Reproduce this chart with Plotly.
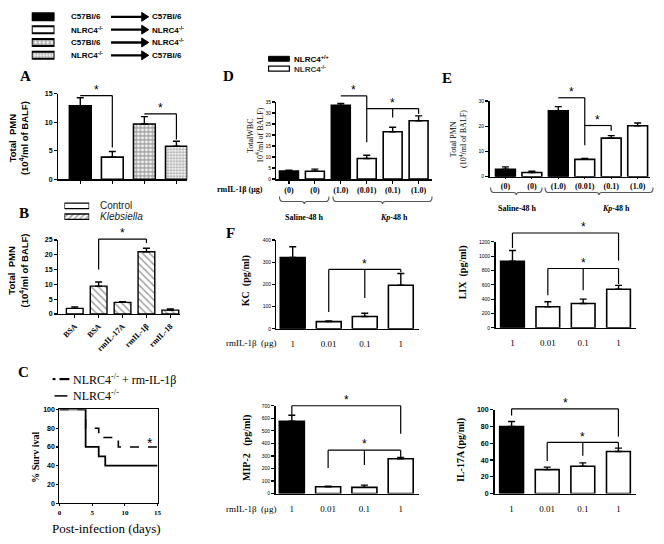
import plotly.graph_objects as go

W, H = 664, 544
def X(px): return px / W
def Y(py): return 1 - py / H

SERIF = "Liberation Serif"
SANS = "Liberation Sans"

# ---------------- data ----------------
transfer_donor = ["C57Bl/6", "NLRC4<sup>-/-</sup>", "C57Bl/6", "NLRC4<sup>-/-</sup>"]
transfer_recipient = ["C57Bl/6", "NLRC4<sup>-/-</sup>", "NLRC4<sup>-/-</sup>", "C57Bl/6"]
a_values = [12.9, 3.9, 9.7, 5.8]
a_errors = [1.4, 1.0, 1.3, 0.9]

b_labels = ["BSA", "BSA", "rmIL-17A", "rmIL-1β", "rmIL-18"]
b_groups = ["Control", "Klebsiella", "Klebsiella", "Klebsiella", "Klebsiella"]
b_values = [1.9, 9.4, 3.9, 21.0, 1.3]
b_errors = [0.5, 1.4, 0.2, 1.2, 0.4]

c_days_il1b = [0, 4, 6, 9, 15]
c_surv_il1b = [100, 80, 70, 60, 60]
c_days_ko = [0, 4, 6, 7, 15]
c_surv_ko = [100, 60, 50, 40, 40]

de_doses = ["(0)", "(0)", "(1.0)", "(0.01)", "(0.1)", "(1.0)"]
de_genotype = ["NLRC4+/+", "NLRC4-/-", "NLRC4+/+", "NLRC4-/-", "NLRC4-/-", "NLRC4-/-"]
d_values = [3.6, 3.5, 33.5, 9.3, 21.5, 26.5]
d_errors = [0.4, 1.0, 0.9, 1.5, 2.0, 2.2]
e_values = [3.0, 1.7, 26.1, 6.9, 15.3, 20.2]
e_errors = [0.9, 0.5, 1.7, 0.4, 1.0, 1.1]

f_doses = ["1", "0.01", "0.1", "1"]
f_genotype = ["NLRC4+/+", "NLRC4-/-", "NLRC4-/-", "NLRC4-/-"]
kc_values = [321, 32, 55, 196]
kc_errors = [48, 3, 15, 53]
lix_values = [930, 294, 340, 538]
lix_errors = [150, 70, 60, 55]
mip2_values = [577, 55, 50, 278]
mip2_errors = [47, 4, 18, 10]
il17a_values = [80, 28.6, 32.6, 50.2]
il17a_errors = [6, 3, 4, 4]

# ---------------- styles ----------------
a_pattern_shape = ["", "", "+", "."]
a_pattern_fg = ["black", "black", "black", "#999999"]
a_pattern_bg = ["black", "white", "white", "white"]
a_pattern_size = [6, 6, 4, 3]
a_pattern_solid = [0.3, 0.3, 0.6, 0.45]

def geno_color(g):
    return "black" if g == "NLRC4+/+" else "white"

fig = go.Figure()
annotations = []
shapes = []
layout_axes = {}
PANELS = {}


def add_axes(i, xd, yd, xr, yr, xtv=None, xtt=None, xfont=None, ytv=None, ytt=None,
             yfont=None, hide=False, mirror=False, tickangle=None, lw=1.5,
             xticklen=3, xtickcolor="black", yticklen=3, xticks="outside"):
    PANELS[i] = (xd, yd, xr, yr)
    xa = dict(domain=[X(xd[0]), X(xd[1])], range=xr, anchor=f"y{i}",
              showgrid=False, zeroline=False, fixedrange=True)
    ya = dict(domain=[Y(yd[1]), Y(yd[0])], range=yr, anchor=f"x{i}",
              showgrid=False, zeroline=False, fixedrange=True)
    if hide:
        xa.update(visible=False)
        ya.update(visible=False)
    else:
        xa.update(showline=True, linecolor="black", linewidth=lw, mirror=mirror,
                  ticks=xticks, ticklen=xticklen, tickwidth=1.2, tickcolor=xtickcolor,
                  tickmode="array", tickvals=xtv,
                  showticklabels=xtt is not None,
                  ticklabeloverflow="allow")
        if xtt is not None:
            xa.update(ticktext=xtt, tickfont=xfont)
        if tickangle is not None:
            xa.update(tickangle=tickangle)
        ya.update(showline=True, linecolor="black", linewidth=lw, mirror=mirror,
                  ticks="outside", ticklen=yticklen, tickwidth=1.2, tickcolor="black",
                  tickmode="array", tickvals=ytv,
                  ticktext=ytt if ytt is not None else [str(v) for v in ytv],
                  tickfont=yfont, showticklabels=True, ticklabeloverflow="allow")
    key = "" if i == 1 else str(i)
    layout_axes["xaxis" + key] = xa
    layout_axes["yaxis" + key] = ya


def axref(i):
    return ("x", "y") if i == 1 else (f"x{i}", f"y{i}")


def bar(i, values, errors, colors, width, pshape=None, pfg=None, pbg=None,
        psize=None, psolid=None, lw=1.6):
    n = len(values)
    marker = dict(color=colors, line=dict(color="black", width=lw))
    if pshape is not None:
        marker["pattern"] = dict(shape=pshape, fgcolor=pfg, bgcolor=pbg,
                                 size=psize, solidity=psolid)
    xr_, yr_ = axref(i)
    fig.add_trace(go.Bar(
        x=list(range(n)), y=values, width=width, marker=marker,
        xaxis=xr_, yaxis=yr_, showlegend=False, hoverinfo="skip",
        error_y=dict(type="data", array=errors, arrayminus=[0] * n,
                     symmetric=False, color="black", thickness=1.4, width=3.5)))


def to_px(i, xv, yv):
    xd, yd, xr, yr = PANELS[i]
    px = xd[0] + (xv - xr[0]) / (xr[1] - xr[0]) * (xd[1] - xd[0])
    py = yd[1] - (yv - yr[0]) / (yr[1] - yr[0]) * (yd[1] - yd[0])
    return px, py


def pline(x0, y0, x1, y1, w=1.2, color="black"):
    shapes.append(dict(type="line", xref="paper", yref="paper", x0=X(x0), y0=Y(y0),
                       x1=X(x1), y1=Y(y1), line=dict(color=color, width=w)))


def txt(x, y, text, size, family=SERIF, anchor="center", angle=0, color="#000000"):
    annotations.append(dict(xref="paper", yref="paper", x=X(x), y=Y(y), text=text,
                            showarrow=False, textangle=angle,
                            font=dict(size=size, family=family, color=color),
                            xanchor=anchor, yanchor="middle"))


def bracket(i, x0, x1, y, drops, star_x=None, star_size=12):
    ax0, ay = to_px(i, x0, y)
    ax1, _ = to_px(i, x1, y)
    pline(ax0, ay, ax1, ay)
    for (xx, yb) in drops:
        dx, dy = to_px(i, xx, yb)
        pline(dx, ay, dx, dy)
    sx = (x0 + x1) / 2 if star_x is None else star_x
    spx, _ = to_px(i, sx, y)
    txt(spx, ay - 6, "*", star_size, SANS)


def brace(x0, x1, ytop, ybot):
    xm = (x0 + x1) / 2
    r = 3
    p = (f"M {X(x0)},{Y(ytop)} Q {X(x0)},{Y(ybot)} {X(x0 + r)},{Y(ybot)} "
         f"L {X(xm - r)},{Y(ybot)} Q {X(xm)},{Y(ybot)} {X(xm)},{Y(ybot + 2.5)} "
         f"Q {X(xm)},{Y(ybot)} {X(xm + r)},{Y(ybot)} "
         f"L {X(x1 - r)},{Y(ybot)} Q {X(x1)},{Y(ybot)} {X(x1)},{Y(ytop)}")
    shapes.append(dict(type="path", xref="paper", yref="paper", path=p,
                       line=dict(color="#555555", width=1.1)))


def arrow(x0, x1, yy):
    pline(x0, yy, x1 - 5, yy, w=2.4)
    p = (f"M {X(x1 - 7)},{Y(yy - 4.5)} L {X(x1)},{Y(yy)} L {X(x1 - 7)},{Y(yy + 4.5)} Z")
    shapes.append(dict(type="path", xref="paper", yref="paper", path=p,
                       fillcolor="black", line=dict(color="black", width=1)))


def bold(lst):
    return [f"<b>{v}</b>" for v in lst]


tiny_tick = dict(size=5, family=SANS, color="#000000")

# ---------------- Panel A ----------------
add_axes(1, (57, 187), (91, 177.7), [-0.68, 3.34], [0, 15], xtv=list(range(4)),
         ytv=[0, 5, 10, 15], ytt=bold([0, 5, 10, 15]),
         yfont=dict(size=7, family=SANS, color="#000000"))
bar(1, a_values, a_errors, a_pattern_bg, 0.68, a_pattern_shape, a_pattern_fg,
    a_pattern_bg, a_pattern_size, a_pattern_solid)
bracket(1, 0, 1, 14.7, [(1, 5.6)])
bracket(1, 2, 3, 11.5, [(3, 7.0)])
txt(24, 73, "<b>A</b>", 15)
txt(16, 136, "<b>Total  PMN<br>(10<sup>4</sup>/ml of BALF)</b>", 9.5, SANS, angle=-90)

# legend for transfers (hidden axis with patterned boxes)
add_axes(10, (30, 53), (6.5, 58.5), [0, 1], [3.5, -0.5], hide=True)
fig.add_trace(go.Bar(orientation="h", x=[1, 1, 1, 1], y=list(range(4)), width=0.55,
                     xaxis="x10", yaxis="y10", showlegend=False, hoverinfo="skip",
                     marker=dict(color=a_pattern_bg, line=dict(color="black", width=2),
                                 pattern=dict(shape=a_pattern_shape, fgcolor=a_pattern_fg,
                                              bgcolor=a_pattern_bg, size=a_pattern_size,
                                              solidity=a_pattern_solid))))
for k, (dn, rc) in enumerate(zip(transfer_donor, transfer_recipient)):
    yy = 13 + 13 * k
    txt(68, yy, f"<b>{dn}</b>", 8, SANS, anchor="left")
    txt(149, yy, f"<b>{rc}</b>", 8, SANS, anchor="left")
    arrow(110, 148, yy)

# ---------------- Panel B ----------------
b_colors = ["white" for g in b_groups]
b_shapes = ["" if g == "Control" else "\\" for g in b_groups]
add_axes(2, (57, 180), (239, 314), [-0.68, 4.42], [0, 25], xtv=list(range(5)),
         xtt=bold(b_labels), xfont=dict(size=8, family=SERIF, color="#000000"),
         ytv=[0, 5, 10, 15, 20, 25], ytt=bold([0, 5, 10, 15, 20, 25]),
         yfont=dict(size=7, family=SANS, color="#000000"), tickangle=-45)
bar(2, b_values, b_errors, b_colors, 0.7, b_shapes, ["black"] * 5, b_colors,
    [5] * 5, [0.3] * 5, lw=1.4)
bracket(2, 1, 3, 25.3, [(1, 15.0), (3, 24.0)])
txt(22, 212, "<b>B</b>", 15)
txt(16, 270, "<b>Total  PMN<br>(10<sup>4</sup>/ml of BALF)</b>", 9.5, SANS, angle=-90)
add_axes(11, (63, 88), (199, 221), [0, 1], [1.5, -0.5], hide=True)
fig.add_trace(go.Bar(orientation="h", x=[1, 1], y=[0, 1], width=0.5,
                     xaxis="x11", yaxis="y11", showlegend=False, hoverinfo="skip",
                     marker=dict(color=["white", "white"], line=dict(color="black", width=1.3),
                                 pattern=dict(shape=["", "/"], fgcolor=["black", "black"],
                                              bgcolor=["white", "white"], size=[4, 4],
                                              solidity=[0.4, 0.4]))))
txt(97, 204, "Control", 10, SANS, anchor="left", color="#222222")
txt(97, 215, "<i>Klebsiella</i>", 10, SANS, anchor="left", color="#222222")

# ---------------- Panel C ----------------
c_yt = [0, 20, 40, 60, 80, 100]
c_xt = [0, 5, 10, 15]
add_axes(3, (58, 157), (410.7, 505.7), [0, 15], [0, 100], xtv=c_xt, xtt=bold(c_xt),
         xfont=dict(size=7, family=SERIF, color="#000000"),
         ytv=c_yt, ytt=bold(c_yt), yfont=dict(size=7, family=SANS, color="#000000"),
         mirror=True, lw=1.2, xticklen=2, yticklen=2)
fig.add_trace(go.Scatter(x=c_days_il1b, y=c_surv_il1b, mode="lines", line_shape="hv",
                         line=dict(color="black", width=1.6, dash="dash"), hoverinfo="skip",
                         xaxis="x3", yaxis="y3", showlegend=False, cliponaxis=False))
fig.add_trace(go.Scatter(x=c_days_ko, y=c_surv_ko, mode="lines", line_shape="hv",
                         line=dict(color="black", width=1.8), hoverinfo="skip",
                         xaxis="x3", yaxis="y3", showlegend=False, cliponaxis=False))
spx, spy = to_px(3, 13.8, 64)
txt(spx, spy, "*", 14, SANS)
txt(22, 373, "<b>C</b>", 15)
txt(33, 459, "<b>% Surv ival</b>", 10, SERIF, angle=-90)
txt(105, 531, "Post-infection (days)", 13, SERIF)
pline(51, 380, 54, 380, w=2)
pline(58, 380, 68, 380, w=2.2)
pline(53, 397, 66, 397, w=1.5)
txt(70, 380, "NLRC4<sup>-/-</sup> + rm-IL-1β", 12, SERIF, anchor="left")
txt(70, 397, "NLRC4<sup>-/-</sup>", 12, SERIF, anchor="left")

# ---------------- Panel D ----------------
de_colors = [geno_color(g) for g in de_genotype]
dose_font = dict(size=8, family=SERIF, color="#000000")
add_axes(4, (277, 434), (99.3, 177.3), [-0.48, 5.52], [0, 35], xtv=list(range(6)),
         xtt=bold(de_doses), xfont=dose_font,
         ytv=[0, 5, 10, 15, 20, 25, 30, 35], yfont=tiny_tick)
bar(4, d_values, d_errors, de_colors, 0.73)
bracket(4, 2, 3, 37.8, [(3, 16.7)])
bracket(4, 3, 5, 32.0, [(4, 28.0), (5, 29.6)], star_x=4)
txt(229, 73, "<b>D</b>", 15)
txt(251, 133, "TotalWBC", 8, SERIF, angle=-90)
txt(260, 133, "10<sup>4</sup>/ml of BALF)", 8, SERIF, angle=-90)
txt(240, 188, "<b>rmIL-1β (μg)</b>", 8, SERIF)
brace(280, 330, 195, 200)
brace(334, 434, 195, 200)
txt(305, 216, "<b>Saline-48 h</b>", 8, SERIF)
txt(396, 216, "<b><i>Kp</i>-48 h</b>", 8, SERIF)
shapes.append(dict(type="rect", xref="paper", yref="paper", x0=X(269), x1=X(290),
                   y0=Y(53), y1=Y(58), fillcolor="black", line=dict(color="black", width=1)))
shapes.append(dict(type="rect", xref="paper", yref="paper", x0=X(269), x1=X(290),
                   y0=Y(63), y1=Y(68), fillcolor="white", line=dict(color="black", width=1.2)))
txt(293, 55.5, "<b>NLRC4<sup>+/+</sup></b>", 8, SANS, anchor="left")
txt(293, 65.5, "<b>NLRC4<sup>-/-</sup></b>", 8, SANS, anchor="left", color="#333333")

# ---------------- Panel E ----------------
add_axes(5, (492, 654), (98.3, 175), [-0.6, 5.47], [0, 30], xtv=list(range(6)),
         xtt=bold(de_doses), xfont=dose_font, xticklen=1,
         ytv=[0, 10, 20, 30], yfont=tiny_tick)
bar(5, e_values, e_errors, de_colors, 0.75)
bracket(5, 2, 3, 31.3, [(3, 12.5)])
bracket(5, 3, 4, 20.3, [(4, 18.2)])
txt(449, 75, "<b>E</b>", 15)
txt(455, 137, "Total PMN", 8, SERIF, angle=-90)
txt(465, 137, "(10<sup>4</sup>/ml of BALF)", 8, SERIF, angle=-90)
brace(493, 545, 186, 191)
brace(548, 657, 186, 191)
txt(520, 207, "<b>Saline-48 h</b>", 8, SERIF)
txt(620, 207, "<b><i>Kp</i>-48 h</b>", 8, SERIF)

# ---------------- Panel F ----------------
f_colors = [geno_color(g) for g in f_genotype]
f_font = dict(size=9, family=SERIF, color="#000000")
clear = "rgba(0,0,0,0)"
# KC
add_axes(6, (277, 421), (239, 329), [-0.45, 3.51], [0, 400], xtv=list(range(4)),
         xtt=f_doses, xfont=f_font, xticklen=6, xtickcolor=clear,
         ytv=[0, 100, 200, 300, 400], yfont=tiny_tick)
bar(6, kc_values, kc_errors, f_colors, 0.69)
bracket(6, 1, 3, 267, [(1, 76), (2, 138), (3, 255)], star_x=2)
txt(247, 280, "<b>KC  (pg/ml)</b>", 10, SERIF, angle=-90)
txt(251, 343, "rmIL-1β  (μg)", 9, SERIF)
txt(231, 232, "<b>F</b>", 15)
# LIX
add_axes(7, (498, 640), (241, 328), [-0.48, 3.5], [0, 1200], xtv=list(range(4)),
         xtt=f_doses, xfont=f_font, xticklen=6, xtickcolor=clear,
         ytv=[0, 200, 400, 600, 800, 1000, 1200], yfont=tiny_tick)
bar(7, lix_values, lix_errors, f_colors, 0.67)
bracket(7, 0, 3, 1324, [(0, 1115), (3, 938)], star_x=2)
bracket(7, 1, 3, 828, [(1, 455), (2, 524), (3, 610)], star_x=2)
txt(465, 272, "<b>LIX  (pg/ml)</b>", 10, SERIF, angle=-90)
# MIP-2
add_axes(8, (276, 421), (407, 496), [-0.45, 3.51], [0, 700], xtv=list(range(4)),
         xtt=f_doses, xfont=f_font, xticklen=6, xtickcolor=clear,
         ytv=[0, 100, 200, 300, 400, 500, 600, 700], yfont=tiny_tick)
bar(8, mip2_values, mip2_errors, f_colors, 0.69)
bracket(8, 0, 3, 700, [(0, 626), (3, 478)])
bracket(8, 1, 3, 346, [(1, 205), (2, 228), (3, 292)], star_x=2)
txt(247, 450, "<b>MIP-2   (pg/ml)</b>", 10, SERIF, angle=-90)
txt(251, 512, "rmIL-1β  (μg)", 9, SERIF)
# IL-17A
il_t = [0, 20, 40, 60, 80, 100]
add_axes(9, (497, 640), (411, 496), [-0.48, 3.5], [0, 100], xtv=list(range(4)),
         xtt=f_doses, xfont=f_font, xticklen=6, xtickcolor=clear,
         ytv=il_t, ytt=bold(il_t), yfont=dict(size=7, family=SANS, color="#000000"))
bar(9, il17a_values, il17a_errors, f_colors, 0.67)
bracket(9, 0, 3, 101, [(0, 93), (3, 68)])
bracket(9, 1, 3, 61, [(1, 39), (2, 45), (3, 54)], star_x=2)
txt(463, 452, "<b>IL-17A (pg/ml)</b>", 10, SERIF, angle=-90)

fig.update_layout(
    width=W, height=H, margin=dict(l=0, r=0, t=0, b=0),
    paper_bgcolor="white", plot_bgcolor="rgba(0,0,0,0)", bargap=0,
    showlegend=False, annotations=annotations, shapes=shapes,
    hovermode=False, dragmode=False,
    font=dict(family=SERIF, color="#000000"),
    **layout_axes)
fig.write_html("out.html", config={"displayModeBar": False, "staticPlot": True},
               post_script="document.body.style.margin='0';document.body.style.overflow='hidden';")
